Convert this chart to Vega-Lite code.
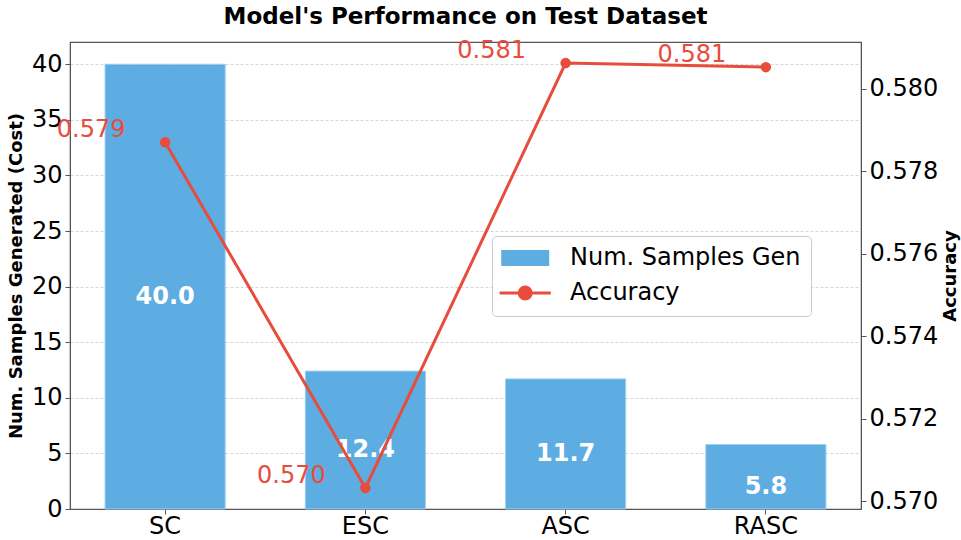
{
  "$schema": "https://vega.github.io/schema/vega-lite/v6.json",
  "autosize": {"type": "none"},
  "padding": {"left": 70, "top": 42, "right": 100, "bottom": 31},
  "width": 791,
  "height": 467,
  "title": {"text": "Model's Performance on Test Dataset", "fontSize": 23, "fontWeight": "bold", "font": "DejaVu Sans", "color": "black", "anchor": "middle", "offset": 10},
  "config": {
    "font": "DejaVu Sans",
    "view": {"stroke": "#555", "strokeWidth": 1.2},
    "axis": {"labelFont": "DejaVu Sans", "titleFont": "DejaVu Sans", "labelColor": "black", "titleColor": "black", "domainColor": "#555", "tickColor": "#555", "labelFontSize": 24, "titleFontSize": 18, "titleFontWeight": "bold", "tickSize": 5, "labelPadding": 3},
    "legend": {
      "title": null, "orient": "none", "legendX": 422, "legendY": 194,
      "labelFontSize": 24, "labelFont": "DejaVu Sans", "labelColor": "black", "labelLimit": 400,
      "strokeColor": "#cccccc", "fillColor": "white", "cornerRadius": 4, "padding": 10,
      "symbolSize": 256, "labelOffset": 44, "rowPadding": 10
    }
  },
  "data": {"values": [
    {"model": "SC", "samples": 40.0, "accuracy": 0.57871},
    {"model": "ESC", "samples": 12.4, "accuracy": 0.57032},
    {"model": "ASC", "samples": 11.7, "accuracy": 0.58063},
    {"model": "RASC", "samples": 5.8, "accuracy": 0.58053}
  ]},
  "encoding": {
    "x": {"field": "model", "type": "nominal", "sort": ["SC", "ESC", "ASC", "RASC"], "scale": {"paddingInner": 0.4, "paddingOuter": 0.175}, "axis": {"title": null, "labelAngle": 0, "grid": false, "labelPadding": 0}}
  },
  "layer": [
    {
      "mark": {"type": "bar", "stroke": "#9fd0ef", "strokeWidth": 1},
      "encoding": {
        "y": {"field": "samples", "type": "quantitative", "scale": {"domain": [0, 42], "nice": false, "zero": true}, "axis": {"title": "Num. Samples Generated (Cost)", "orient": "left", "values": [0, 5, 10, 15, 20, 25, 30, 35, 40], "grid": true, "gridColor": "#cccccc", "gridDash": [3, 2], "gridWidth": 0.8, "titlePadding": 6}},
        "color": {"datum": "Num. Samples Gen", "scale": {"domain": ["Num. Samples Gen", "Accuracy"], "range": ["#5DADE2", "#E74C3C"]}, "legend": {
          "encode": {"symbols": {"update": {
            "shape": {"signal": "datum.value === 'Accuracy' ? 'M-1.8,0L4.6,0M2.15,0A0.75,0.75 0 1,1 0.65,0A0.75,0.75 0 1,1 2.15,0Z' : 'M-1.6,-1L4.4,-1L4.4,1L-1.6,1Z'"},
            "fill": {"signal": "datum.value === 'Accuracy' ? '#E74C3C' : '#5DADE2'"},
            "stroke": {"signal": "datum.value === 'Accuracy' ? '#E74C3C' : '#5DADE2'"},
            "strokeWidth": {"signal": "datum.value === 'Accuracy' ? 3 : 0"},
            "opacity": {"value": 1}, "fillOpacity": {"value": 1}, "strokeOpacity": {"value": 1}
          }}}
        }}
      }
    },
    {
      "mark": {"type": "text", "color": "white", "fontSize": 24, "fontWeight": "bold", "baseline": "middle", "align": "center", "dy": 10},
      "encoding": {
        "y": {"field": "samples", "type": "quantitative", "scale": {"domain": [0, 84], "nice": false, "zero": true}, "axis": null},
        "text": {"field": "samples", "type": "quantitative", "format": ".1f"}
      }
    },
    {
      "mark": {"type": "line", "strokeWidth": 3, "point": {"filled": true, "size": 110}},
      "encoding": {
        "y": {"field": "accuracy", "type": "quantitative", "scale": {"domain": [0.56981, 0.58114], "nice": false, "zero": false}, "axis": {"title": "Accuracy", "orient": "right", "values": [0.570, 0.572, 0.574, 0.576, 0.578, 0.580], "format": ".3f", "grid": false, "titleAngle": 270, "titlePadding": 22}},
        "color": {"datum": "Accuracy", "legend": {
          "encode": {"symbols": {"update": {
            "shape": {"signal": "datum.value === 'Accuracy' ? 'M-1.8,0L4.6,0M2.15,0A0.75,0.75 0 1,1 0.65,0A0.75,0.75 0 1,1 2.15,0Z' : 'M-1.6,-1L4.4,-1L4.4,1L-1.6,1Z'"},
            "fill": {"signal": "datum.value === 'Accuracy' ? '#E74C3C' : '#5DADE2'"},
            "stroke": {"signal": "datum.value === 'Accuracy' ? '#E74C3C' : '#5DADE2'"},
            "strokeWidth": {"signal": "datum.value === 'Accuracy' ? 3 : 0"},
            "opacity": {"value": 1}, "fillOpacity": {"value": 1}, "strokeOpacity": {"value": 1}
          }}}
        }}
      }
    },
    {
      "mark": {"type": "text", "color": "#E74C3C", "fontSize": 24, "baseline": "middle", "align": "center", "dx": -74, "dy": -12},
      "encoding": {
        "y": {"field": "accuracy", "type": "quantitative", "scale": {"domain": [0.56981, 0.58114], "nice": false, "zero": false}, "axis": null},
        "text": {"field": "accuracy", "type": "quantitative", "format": ".3f"}
      }
    }
  ],
  "resolve": {"scale": {"y": "independent"}, "axis": {"y": "independent"}}
}
